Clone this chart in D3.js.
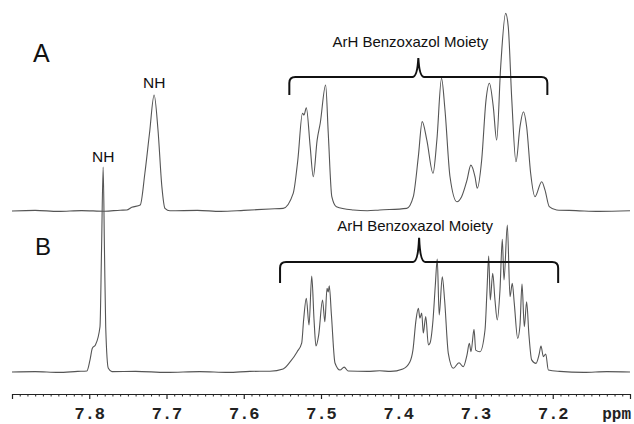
<!DOCTYPE html>
<html>
<head>
<meta charset="utf-8">
<script src="https://cdn.jsdelivr.net/npm/d3@7"></script>
<style>
body { margin: 0; background: #fff; }
svg { display: block; }
</style>
</head>
<body>
<svg id="chart" width="634" height="424"></svg>
<script>
// chemical shift (ppm) and intensity (% of tallest line)
const spectrumA = [
    [7.900, 0], [7.870, 0.3], [7.840, -0.2], [7.810, 0.2], [7.780, -0.1], [7.760, 0.4],
    [7.7515, 0.5], [7.745, 1.8], [7.734, 2.9], [7.728, 18.4], [7.722, 37.9], [7.716, 56.6],
    [7.711, 39.5], [7.706, 11.9], [7.702, 1.3], [7.6955, 0.1], [7.660, 0.3], [7.630, -0.2],
    [7.600, 0.3], [7.566, 1.0], [7.549, 1.3], [7.536, 8.6], [7.530, 24.9], [7.524, 47.7],
    [7.522, 46.8], [7.519, 50.4], [7.514, 31.4], [7.510, 16.7], [7.505, 34.6], [7.501, 42.8],
    [7.494, 61.5], [7.4906, 37.9], [7.486, 7.0], [7.480, 2.1], [7.458, 0.5], [7.440, 0.1],
    [7.424, 0.5], [7.389, 1.3], [7.3805, 7.0], [7.374, 26.5], [7.369, 43.6], [7.363, 34.6],
    [7.355, 18.4], [7.350, 34.6], [7.344, 64.7], [7.3395, 49.3], [7.333, 16.7], [7.324, 4.5],
    [7.318, 7.0], [7.311, 15.1], [7.306, 22.4], [7.3006, 16.7], [7.2977, 11.1], [7.292, 24.9],
    [7.2864, 54.1], [7.282, 62.3], [7.277, 50.9], [7.2726, 34.6], [7.2674, 70.4], [7.261, 96.4],
    [7.2576, 89.9], [7.253, 54.1], [7.2476, 24.0], [7.2424, 41.1], [7.238, 48.4], [7.2338, 41.1],
    [7.2286, 18.4], [7.223, 7.0], [7.2143, 14.3], [7.210, 10.2], [7.2045, 2.1], [7.195, 0.5],
    [7.170, 0.2], [7.140, -0.2], [7.100, 0.1]
];

const spectrumB = [
    [7.900, 0], [7.870, 0.2], [7.840, -0.2], [7.815, 0.3], [7.803, 0.5], [7.799, 5.9],
    [7.796, 11.6], [7.792, 13.2], [7.7861, 22.1], [7.7841, 59.5], [7.782, 100], [7.7803, 59.5],
    [7.7787, 22.1], [7.7753, 1.8], [7.7706, 0.2], [7.740, 0.3], [7.700, -0.2], [7.657, 0.2],
    [7.620, -0.2], [7.592, 0.3], [7.566, 0.4], [7.549, 1.5], [7.540, 4.9], [7.531, 9.8],
    [7.525, 14.1], [7.5225, 25.4], [7.519, 36.0], [7.5155, 22.9], [7.512, 46.8], [7.509, 25.4],
    [7.5065, 12.7], [7.503, 18.0], [7.498, 35.1], [7.495, 24.5], [7.4922, 40.8], [7.4907, 39.0],
    [7.4893, 42.0], [7.4865, 27.8], [7.4819, 4.4], [7.4754, 1.0], [7.470, 2.4], [7.465, 0.5],
    [7.440, 0.3], [7.424, 0.6], [7.410, 0.3], [7.394, 1.5], [7.385, 4.9], [7.381, 10.7],
    [7.377, 25.4], [7.374, 31.1], [7.372, 26.3], [7.3696, 28.8], [7.3676, 19.0], [7.3644, 27.0],
    [7.361, 13.2], [7.359, 14.0], [7.355, 25.4], [7.352, 42.4], [7.3495, 55.1], [7.347, 27.8],
    [7.343, 46.5], [7.340, 35.1], [7.3352, 9.1], [7.3287, 1.8], [7.3214, 4.5], [7.3158, 2.6],
    [7.311, 8.3], [7.308, 14.0], [7.3058, 9.9], [7.3019, 20.8], [7.2997, 10.7], [7.2942, 9.9],
    [7.2877, 20.5], [7.2851, 40.0], [7.2829, 56.6], [7.2809, 35.1], [7.2777, 48.1], [7.2748, 35.1],
    [7.2718, 25.4], [7.2683, 40.0], [7.2653, 64.7], [7.2631, 44.9], [7.2588, 71.7], [7.2553, 36.7],
    [7.2524, 43.3], [7.2498, 33.5], [7.2454, 16.4], [7.2424, 22.9], [7.2398, 42.9], [7.2368, 22.1],
    [7.2338, 34.3], [7.2308, 18.0], [7.2273, 5.9], [7.2217, 4.2], [7.2178, 8.3], [7.2152, 12.7],
    [7.2122, 7.5], [7.2091, 8.8], [7.2057, 1.0], [7.191, 0.3], [7.160, -0.2], [7.130, 0.2],
    [7.100, 0]
];

const ppmTicks = [7.8, 7.7, 7.6, 7.5, 7.4, 7.3, 7.2];
const ppmRange = [7.9, 7.1];
const axisUnit = 'ppm';
const panelNames = ['A', 'B'];

const nhLabels = [
    {panel: 'A', ppm: 7.716, intensity: 56.6, text: 'NH'},
    {panel: 'B', ppm: 7.782, intensity: 100, text: 'NH'}
];

const braces = [
    {panel: 'A', from: 7.541, to: 7.207, mid: 7.374, level: 65.4, text: 'ArH Benzoxazol Moiety'},
    {panel: 'B', from: 7.553, to: 7.193, mid: 7.373, level: 53.7, text: 'ArH Benzoxazol Moiety'}
];

const svg = d3.select('#chart');

const x = d3.scaleLinear().domain(ppmRange).range([12, 630]);
const yScales = {
    A: d3.scaleLinear().domain([0, 100]).range([211, 6]),
    B: d3.scaleLinear().domain([0, 100]).range([372, 167])
};

const layout = {
    A: {letterX: 33, letterY: 62, letterSize: 25, nhGap: 7, drop: 18, tip: 19, textGap: 11, textDx: -8},
    B: {letterX: 35, letterY: 255, letterSize: 24, nhGap: 5, drop: 21, tip: 24, textGap: 7, textDx: -4}
};

let line = y => d3.line()
    .x(d => x(d[0]))
    .y(d => y(d[1]))
    .curve(d3.curveMonotoneX);

[['A', spectrumA], ['B', spectrumB]].forEach(([name, data]) => {
    svg.append('path')
        .datum(data)
        .attr('fill', 'none')
        .attr('stroke', '#555')
        .attr('stroke-width', 1.1)
        .attr('stroke-linejoin', 'round')
        .attr('d', line(yScales[name]));
});

// panel letters
svg.selectAll('text.panel')
    .data(panelNames)
    .enter()
    .append('text')
        .attr('class', 'panel')
        .attr('x', d => layout[d].letterX)
        .attr('y', d => layout[d].letterY)
        .attr('font-family', 'Liberation Sans, Arial, sans-serif')
        .attr('font-size', d => layout[d].letterSize)
        .attr('fill', '#111')
        .text(d => d);

svg.selectAll('text.nh')
    .data(nhLabels)
    .enter()
    .append('text')
        .attr('class', 'nh')
        .attr('x', d => x(d.ppm))
        .attr('y', d => yScales[d.panel](d.intensity) - layout[d.panel].nhGap)
        .attr('text-anchor', 'middle')
        .attr('font-family', 'Liberation Sans, Arial, sans-serif')
        .attr('font-size', 15.5)
        .attr('fill', '#111')
        .text(d => d.text);

let bracePath = d => {
    let L = x(d.from), R = x(d.to), M = x(d.mid);
    let h = yScales[d.panel](d.level);
    let lay = layout[d.panel];
    let r = 6;
    return `M${L},${h + lay.drop} L${L},${h + r} Q${L},${h} ${L + r},${h}
        L${M - 6},${h} Q${M - 1},${h} ${M},${h - lay.tip} Q${M + 1},${h} ${M + 6},${h}
        L${R - r},${h} Q${R},${h} ${R},${h + r} L${R},${h + lay.drop}`;
};

svg.selectAll('path.brace')
    .data(braces)
    .enter()
    .append('path')
        .attr('class', 'brace')
        .attr('fill', 'none')
        .attr('stroke', '#111')
        .attr('stroke-width', 2)
        .attr('d', bracePath);

svg.selectAll('text.brace')
    .data(braces)
    .enter()
    .append('text')
        .attr('class', 'brace')
        .attr('x', d => x(d.mid) + layout[d.panel].textDx)
        .attr('y', d => yScales[d.panel](d.level) - layout[d.panel].tip - layout[d.panel].textGap)
        .attr('text-anchor', 'middle')
        .attr('font-family', 'Liberation Sans, Arial, sans-serif')
        .attr('font-size', 15)
        .attr('fill', '#111')
        .text(d => d.text);

// ppm axis
const axisY = 394;
const labelSize = 17;
const minorTicks = d3.range(0, 81).map(i => +(7.1 + i * 0.01).toFixed(2))
    .filter(v => !ppmTicks.some(t => Math.abs(t - v) < 1e-6));

svg.append('g')
    .attr('transform', `translate(0,${axisY})`)
    .call(d3.axisBottom(x).tickValues(minorTicks).tickSize(2.5).tickFormat(''))
    .call(g => g.select('.domain').remove())
    .call(g => g.selectAll('line').attr('stroke', '#222'));

let axis = svg.append('g')
    .attr('transform', `translate(0,${axisY})`)
    .call(d3.axisBottom(x)
        .tickValues(ppmTicks)
        .tickSize(5)
        .tickSizeOuter(5)
        .tickPadding(8)
        .tickFormat(d3.format('.1f')));

axis.select('.domain').attr('stroke', '#222').attr('stroke-width', 1.2);
axis.selectAll('line').attr('stroke', '#222').attr('stroke-width', 1.2);
axis.selectAll('text')
    .attr('font-family', 'Liberation Mono, Courier New, monospace')
    .attr('font-weight', 'bold')
    .attr('font-size', labelSize)
    .attr('fill', '#222');

svg.append('text')
    .attr('x', 631)
    .attr('y', axisY + 5 + 8 + labelSize * 0.71)
    .attr('text-anchor', 'end')
    .attr('font-family', 'Liberation Mono, Courier New, monospace')
    .attr('font-weight', 'bold')
    .attr('font-size', 16)
    .attr('fill', '#222')
    .text(axisUnit);
</script>
</body>
</html>
